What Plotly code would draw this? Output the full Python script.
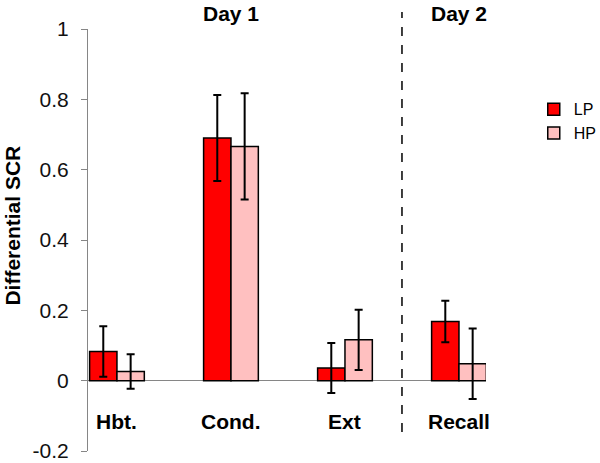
import plotly.graph_objects as go

categories = ["Hbt.", "Cond.", "Ext", "Recall"]
lp_values = [0.083, 0.690, 0.036, 0.168]
lp_errors = [0.072, 0.122, 0.071, 0.059]
hp_values = [0.026, 0.666, 0.116, 0.048]
hp_errors = [0.049, 0.151, 0.086, 0.100]
day_labels = ["Day 1", "Day 2"]
day_positions = [1, 3]
y_tick_vals = [-0.2, 0, 0.2, 0.4, 0.6, 0.8, 1]
y_tick_text = ["-0.2", "0", "0.2", "0.4", "0.6", "0.8", "1"]

FONT = "Liberation Sans, Arial, sans-serif"
x_idx = list(range(len(categories)))

fig = go.Figure()
fig.add_trace(go.Bar(
    x=x_idx, y=lp_values, name="LP",
    marker=dict(color="#FF0000", line=dict(color="#000000", width=1.5)),
    error_y=dict(type="data", array=lp_errors, color="#000000", thickness=2, width=4),
))
fig.add_trace(go.Bar(
    x=x_idx, y=hp_values, name="HP",
    marker=dict(color="#FFC0C0", line=dict(color="#000000", width=1.5)),
    error_y=dict(type="data", array=hp_errors, color="#000000", thickness=2, width=4),
))

annotations = []
for i, c in enumerate(categories):
    annotations.append(dict(x=i, y=-0.115, xref="x", yref="y", text="<b>%s</b>" % c,
                            showarrow=False, font=dict(family=FONT, size=21, color="#000000"),
                            xanchor="center", yanchor="middle"))
for p, t in zip(day_positions, day_labels):
    annotations.append(dict(x=p, y=1.0, xref="x", yref="paper", text="<b>%s</b>" % t,
                            showarrow=False, font=dict(family=FONT, size=21, color="#000000"),
                            xanchor="center", yanchor="bottom", yshift=2))
annotations.append(dict(x=-0.19, y=0.535, xref="paper", yref="paper", text="<b>Differential SCR</b>",
                        textangle=-90, showarrow=False,
                        font=dict(family=FONT, size=21, color="#000000"),
                        xanchor="center", yanchor="middle"))

fig.update_layout(
    width=600, height=463,
    margin=dict(l=88, r=114, t=29, b=12, autoexpand=False),
    paper_bgcolor="white", plot_bgcolor="white",
    barmode="group", bargap=0.52, bargroupgap=0,
    showlegend=True,
    legend=dict(x=1.12, y=0.85, xanchor="left", yanchor="top",
                font=dict(family=FONT, size=16, color="#000000"),
                bgcolor="rgba(0,0,0,0)", tracegroupgap=0),
    xaxis=dict(range=[-0.254, 3.237], showticklabels=False, showgrid=False,
               zeroline=False, showline=False, ticks="", automargin=False),
    yaxis=dict(range=[-0.2, 1], tickvals=y_tick_vals, ticktext=y_tick_text,
               showgrid=False, showline=True, linecolor="#868686", linewidth=1,
               ticks="outside", ticklen=6, tickcolor="#868686",
               zeroline=True, zerolinecolor="#868686", zerolinewidth=1,
               tickfont=dict(family=FONT, size=21, color="#111111"),
               ticklabelstandoff=8, ticklabeloverflow="allow", automargin=False),
    annotations=annotations,
    shapes=[dict(type="line", xref="x", yref="paper", x0=2.5, x1=2.5, y0=0.045, y1=1.04,
                 line=dict(color="#000000", width=1.5, dash="dash"))],
)

fig.write_html("out.html", config={"displayModeBar": False},
               post_script="document.body.style.margin='0';document.body.style.overflow='hidden';")
